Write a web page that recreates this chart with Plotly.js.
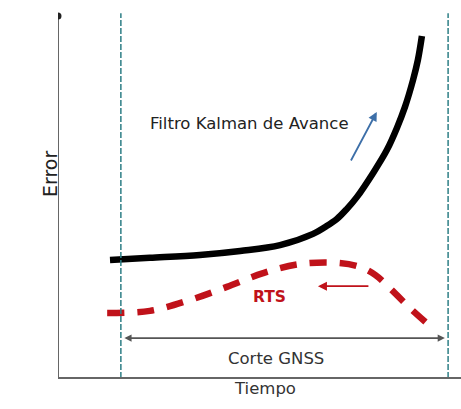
<!DOCTYPE html>
<html>
<head>
<meta charset="utf-8">
<script src="https://cdn.plot.ly/plotly-3.0.1.min.js"></script>
<style>html,body{margin:0;padding:0;background:#fff;}#chart{width:461px;height:409px;}</style>
</head>
<body>
<div id="chart"></div>
<script>
// Time (0-100) and error (0-100)
var kalmanTime  = [12.9, 22.8, 35.2, 45.2, 55.1, 63.3, 66.3, 69.2, 71.7, 74.2, 78.2, 81.6, 84.1, 86.1, 88.1, 89.3, 90.3];
var kalmanError = [32.5, 33.1, 33.9, 35.0, 36.6, 39.7, 41.6, 43.8, 46.6, 49.9, 56.5, 62.8, 68.9, 74.7, 82.1, 87.6, 94.2];
var rtsTime  = [12.2, 22.8, 32.8, 41.9, 50.9, 60.0, 69.5, 74.9, 78.7, 83.6, 87.3, 93.5];
var rtsError = [17.9, 18.5, 21.5, 25.1, 28.9, 31.4, 31.7, 30.6, 28.4, 23.4, 19.3, 13.2];
var outageStart = 15.6;
var outageEnd = 96.8;
var labels = {kalman: "Filtro Kalman de Avance", rts: "RTS", outage: "Corte GNSS", x: "Tiempo", y: "Error"};

var font = "DejaVu Sans, Liberation Sans, Arial, sans-serif";
var traces = [
  {x: kalmanTime, y: kalmanError, mode: "lines", line: {color: "#000", width: 6.5, shape: "spline", smoothing: 1}, hoverinfo: "skip"},
  {x: rtsTime, y: rtsError, mode: "lines", line: {color: "#c0121a", width: 6.5, shape: "spline", dash: "17px,13px"}, hoverinfo: "skip"}
];

var layout = {
  width: 461, height: 409,
  margin: {l: 58, r: 0, t: 15, b: 31},
  paper_bgcolor: "#fff", plot_bgcolor: "#fff",
  showlegend: false,
  xaxis: {range: [0, 100], visible: false, fixedrange: true},
  yaxis: {range: [0, 100], visible: false, fixedrange: true},
  shapes: [
    {type: "line", xref: "x", yref: "paper", x0: outageStart, x1: outageStart, y0: 0, y1: 1.005, line: {color: "#2e7f86", width: 1.5, dash: "6px,2px"}},
    {type: "line", xref: "x", yref: "paper", x0: outageEnd, x1: outageEnd, y0: 0, y1: 1.005, line: {color: "#2e7f86", width: 1.5, dash: "6px,2px"}},
    {type: "line", xref: "x", yref: "paper", x0: 0, x1: 0, y0: 0, y1: 0.997, line: {color: "#666", width: 2}},
    {type: "line", xref: "x", yref: "paper", x0: 0, x1: 100, y0: 0, y1: 0, line: {color: "#666", width: 2}},
    {type: "circle", xref: "x", yref: "paper", xsizemode: "pixel", ysizemode: "pixel", xanchor: 0, yanchor: 0.997, x0: -3.5, x1: 3.5, y0: -3.5, y1: 3.5, fillcolor: "#222", line: {width: 0}}
  ],
  annotations: [
    {x: 47.6, y: 70.2, xref: "x", yref: "y", text: labels.kalman, showarrow: false, font: {family: font, size: 16.5, color: "#222"}},
    {x: 52.6, y: 22.3, xref: "x", yref: "y", text: "<b>" + labels.rts + "</b>", showarrow: false, font: {family: font, size: 15.5, color: "#c0121a"}},
    {x: 54.1, y: 5.5, xref: "x", yref: "y", text: labels.outage, showarrow: false, font: {family: font, size: 16.5, color: "#333"}},
    {x: 0.514, y: -0.06, xref: "paper", yref: "paper", text: labels.x, showarrow: false, font: {family: font, size: 16.5, color: "#333"}},
    {x: -0.052, y: 0.562, xref: "paper", yref: "paper", text: labels.y, textangle: -90, showarrow: false, font: {family: font, size: 19, color: "#222"}},
    // blue arrow (forward filter)
    {x: 79.1, y: 73.3, ax: 72.5, ay: 59.5, xref: "x", yref: "y", axref: "x", ayref: "y", text: "", showarrow: true, arrowhead: 2, arrowsize: 1, arrowwidth: 1.8, arrowcolor: "#3d6fa8"},
    // red arrow (RTS backward)
    {x: 64.5, y: 25.3, ax: 77.4, ay: 25.3, xref: "x", yref: "y", axref: "x", ayref: "y", text: "", showarrow: true, arrowhead: 2, arrowsize: 1, arrowwidth: 1.8, arrowcolor: "#c0121a"},
    // outage span double arrow
    {x: 96.0, y: 11.0, ax: 16.1, ay: 11.0, xref: "x", yref: "y", axref: "x", ayref: "y", text: "", showarrow: true, arrowhead: 2, startarrowhead: 2, arrowside: "end+start", arrowsize: 0.8, arrowwidth: 1.8, arrowcolor: "#555"}
  ]
};

Plotly.newPlot("chart", traces, layout, {staticPlot: true, displayModeBar: false});
</script>
</body>
</html>
